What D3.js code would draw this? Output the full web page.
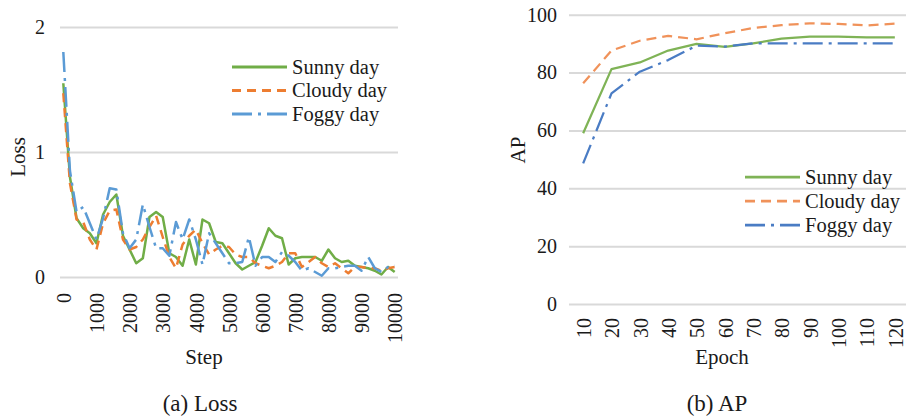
<!DOCTYPE html>
<html>
<head>
<meta charset="utf-8">
<script src="https://cdn.jsdelivr.net/npm/d3@7"></script>
<style>
  html, body { margin: 0; padding: 0; background: #ffffff; }
  svg { display: block; }
</style>
</head>
<body>
<svg id="fig" width="906" height="417"></svg>
<script>
// ---- (a) Loss: training steps and loss per weather condition ----
const steps = [0, 200, 400, 600, 800, 1000, 1200, 1400, 1600, 1800,
  2000, 2200, 2400, 2600, 2800, 3000, 3200, 3400, 3600, 3800,
  4000, 4200, 4400, 4600, 4800, 5000, 5200, 5400, 5600, 5800,
  6000, 6200, 6400, 6600, 6800, 7000, 7200, 7400, 7600, 7800,
  8000, 8200, 8400, 8600, 8800, 9000, 9200, 9400, 9600, 9800, 10000];

const sunnyLoss = [1.55, 0.80, 0.47, 0.39, 0.35, 0.27, 0.50, 0.60, 0.66, 0.33,
  0.22, 0.11, 0.15, 0.48, 0.52, 0.48, 0.19, 0.16, 0.09, 0.30,
  0.10, 0.46, 0.43, 0.28, 0.27, 0.19, 0.11, 0.06, 0.09, 0.12,
  0.25, 0.39, 0.33, 0.31, 0.10, 0.15, 0.16, 0.16, 0.16, 0.13,
  0.22, 0.15, 0.12, 0.13, 0.09, 0.08, 0.07, 0.05, 0.02, 0.08, 0.04];

const cloudyLoss = [1.47, 0.75, 0.46, 0.44, 0.30, 0.22, 0.43, 0.53, 0.54, 0.30,
  0.22, 0.24, 0.30, 0.40, 0.49, 0.32, 0.16, 0.07, 0.26, 0.33,
  0.38, 0.27, 0.18, 0.22, 0.25, 0.24, 0.18, 0.16, 0.16, 0.11,
  0.09, 0.07, 0.09, 0.12, 0.19, 0.19, 0.08, 0.12, 0.16, 0.11,
  0.08, 0.11, 0.07, 0.03, 0.08, 0.08, 0.07, 0.07, 0.05, 0.07, 0.08];

const foggyLoss = [1.80, 0.85, 0.52, 0.56, 0.43, 0.30, 0.47, 0.71, 0.70, 0.35,
  0.23, 0.30, 0.58, 0.40, 0.23, 0.23, 0.17, 0.44, 0.30, 0.46,
  0.30, 0.10, 0.35, 0.27, 0.19, 0.11, 0.11, 0.12, 0.32, 0.09,
  0.16, 0.16, 0.12, 0.20, 0.17, 0.12, 0.05, 0.07, 0.04, 0.01,
  0.07, 0.07, 0.08, 0.09, 0.09, 0.05, 0.16, 0.07, 0.04, 0.08, 0.09];

const lossTicks = [0, 1, 2];
const stepTickLabels = [0, 1000, 2000, 3000, 4000, 5000, 6000, 7000, 8000, 9000, 10000];

// ---- (b) AP: average precision per epoch ----
const epochs = [10, 20, 30, 40, 50, 60, 70, 80, 90, 100, 110, 120];
const sunnyAP  = [59.0, 81.2, 83.5, 87.6, 89.9, 88.9, 90.1, 91.7, 92.4, 92.4, 92.2, 92.2];
const cloudyAP = [76.3, 87.6, 91.0, 92.7, 91.5, 93.6, 95.4, 96.4, 97.0, 96.8, 96.3, 96.9];
const foggyAP  = [48.6, 72.8, 80.3, 84.3, 89.3, 89.0, 90.1, 90.1, 90.1, 90.1, 90.1, 90.1];
const apTicks = [0, 20, 40, 60, 80, 100];

const seriesNames = ["Sunny day", "Cloudy day", "Foggy day"];

// line appearance per series, per panel
const lossStyles = [
  { color: "#70ad47", dash: null },
  { color: "#ed7d31", dash: "9,6" },
  { color: "#5b9bd5", dash: "20,6,3,6" }
];
const apStyles = [
  { color: "#7fb356", dash: null },
  { color: "#f0925a", dash: "10,6" },
  { color: "#4a7cc4", dash: "20,6,3,6" }
];

// pick the first installed Times-like face; fall back to the generic serif
function pickSerif() {
  const candidates = ["Liberation Serif", "Tinos", "Times New Roman", "Nimbus Roman",
    "Nimbus Roman No9 L", "FreeSerif", "DejaVu Serif", "Noto Serif"];
  const ctx = document.createElement("canvas").getContext("2d");
  const probe = "Sunny day Cloudy 0123456789 Loss";
  const width = f => { ctx.font = f; return ctx.measureText(probe).width; };
  const baseMono = width("40px monospace");
  const baseSans = width("40px sans-serif");
  for (const c of candidates) {
    if (width(`40px "${c}", monospace`) !== baseMono || width(`40px "${c}", sans-serif`) !== baseSans) {
      return `"${c}", serif`;
    }
  }
  return "serif";
}
const serif = pickSerif();

const svg = d3.select("#fig").attr("font-family", serif);
const gridColor = "#d9d9d9";
const textColor = "#1a1a1a";

function drawPanel(cfg) {
  const g = svg.append("g");

  const x = d3.scalePoint().domain(cfg.categories).range([cfg.left, cfg.right]).padding(0.5);
  const y = d3.scaleLinear().domain(cfg.yDomain).range([cfg.bottom, cfg.top]);

  // horizontal gridlines with value labels
  g.append("g")
    .attr("transform", `translate(${cfg.left},0)`)
    .call(d3.axisLeft(y).tickValues(cfg.yTicks).tickFormat(d3.format("d"))
      .tickSize(-(cfg.gridRight - cfg.left)).tickPadding(cfg.yPad))
    .attr("font-family", serif).attr("font-size", 20)
    .call(a => a.select(".domain").remove())
    .call(a => a.selectAll(".tick line").attr("stroke", gridColor).attr("stroke-width", 2))
    .call(a => a.selectAll(".tick text").attr("fill", textColor));

  // category labels, rotated
  g.append("g")
    .attr("transform", `translate(0,${cfg.bottom})`)
    .call(d3.axisBottom(x).tickValues(cfg.xTicks).tickSize(0))
    .attr("font-family", serif).attr("font-size", 20)
    .call(a => a.select(".domain").remove())
    .call(a => a.selectAll(".tick text")
      .attr("transform", "rotate(-90)")
      .attr("x", -cfg.xPad).attr("y", 0).attr("dy", "0.36em")
      .attr("text-anchor", "end")
      .attr("fill", textColor));

  // series lines
  cfg.series.forEach((vals, k) => {
    const line = d3.line()
      .x((d, i) => x(cfg.categories[i]))
      .y(d => y(d));
    g.append("path")
      .datum(vals)
      .attr("d", line)
      .attr("fill", "none")
      .attr("stroke", cfg.styles[k].color)
      .attr("stroke-width", cfg.lineWidth)
      .attr("stroke-linejoin", "round")
      .attr("stroke-dasharray", cfg.styles[k].dash);
  });

  // axis titles
  g.append("text")
    .attr("x", cfg.xTitle[0]).attr("y", cfg.xTitle[1])
    .attr("text-anchor", "middle").attr("font-size", 21).attr("fill", textColor)
    .text(cfg.xLabel);
  g.append("text")
    .attr("transform", `translate(${cfg.yTitle[0]},${cfg.yTitle[1]}) rotate(-90)`)
    .attr("text-anchor", "middle").attr("dy", "0.35em").attr("font-size", 21).attr("fill", textColor)
    .text(cfg.yLabel);

  // legend
  const lg = g.append("g").attr("transform", `translate(${cfg.legend[0]},${cfg.legend[1]})`);
  seriesNames.forEach((name, k) => {
    const row = lg.append("g").attr("transform", `translate(0,${k * cfg.legendGap})`);
    row.append("line")
      .attr("x1", 0).attr("x2", 55).attr("y1", 0).attr("y2", 0)
      .attr("stroke", cfg.styles[k].color).attr("stroke-width", cfg.lineWidth + 0.5)
      .attr("stroke-dasharray", cfg.styles[k].dash);
    row.append("text")
      .attr("x", 60).attr("y", 0).attr("dy", "0.33em")
      .attr("font-size", 20.5).attr("fill", textColor)
      .text(name);
  });

  // caption
  g.append("text")
    .attr("x", cfg.caption[0]).attr("y", cfg.caption[1])
    .attr("text-anchor", "middle").attr("font-size", 23).attr("fill", textColor)
    .text(cfg.captionText);
}

drawPanel({
  categories: steps, xTicks: stepTickLabels,
  left: 60, right: 398, gridRight: 398, top: 27, bottom: 277,
  yDomain: [0, 2], yTicks: lossTicks, yPad: 15, xPad: 16,
  series: [sunnyLoss, cloudyLoss, foggyLoss], styles: lossStyles, lineWidth: 2.5,
  xLabel: "Step", xTitle: [204, 364],
  yLabel: "Loss", yTitle: [18, 157],
  legend: [232, 67], legendGap: 23.5,
  caption: [200, 411], captionText: "(a) Loss"
});

drawPanel({
  categories: epochs, xTicks: epochs,
  left: 569, right: 909, gridRight: 906, top: 14.7, bottom: 304,
  yDomain: [0, 100], yTicks: apTicks, yPad: 12, xPad: 14,
  series: [sunnyAP, cloudyAP, foggyAP], styles: apStyles, lineWidth: 2.25,
  xLabel: "Epoch", xTitle: [722, 364],
  yLabel: "AP", yTitle: [518, 150],
  legend: [745, 177], legendGap: 24,
  caption: [717, 411], captionText: "(b) AP"
});
</script>
</body>
</html>
